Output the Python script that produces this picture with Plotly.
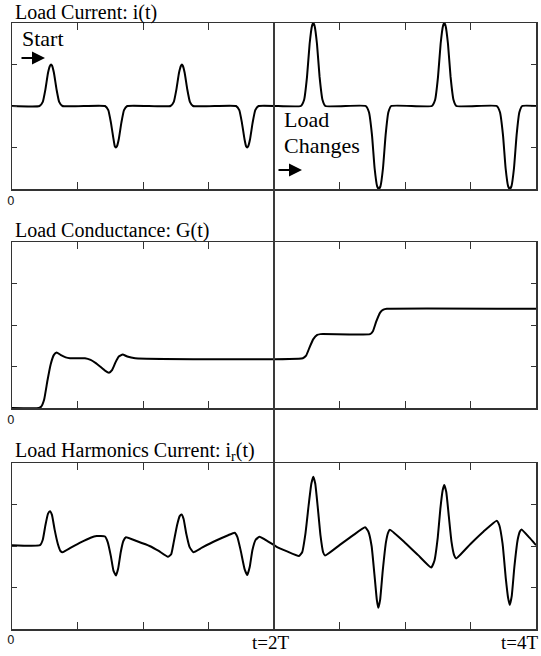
import plotly.graph_objects as go

W, H = 541, 656

# ---------------- data (t in units of T) ----------------
t_current = [0.0, 0.21, 0.235, 0.255, 0.275, 0.29, 0.298, 0.306, 0.32, 0.34, 0.36, 0.385,
             0.71, 0.735, 0.755, 0.775, 0.785, 0.793, 0.801, 0.815, 0.835, 0.855, 0.88,
             1.21, 1.235, 1.255, 1.275, 1.29, 1.297, 1.304, 1.318, 1.338, 1.358, 1.382,
             1.71, 1.735, 1.755, 1.775, 1.787, 1.795, 1.803, 1.817, 1.837, 1.857, 1.882,
             2.205, 2.23, 2.252, 2.272, 2.29, 2.30, 2.31, 2.328, 2.348, 2.37, 2.392,
             2.70, 2.725, 2.748, 2.768, 2.787, 2.80, 2.813, 2.832, 2.852, 2.873, 2.895,
             3.205, 3.23, 3.252, 3.272, 3.29, 3.30, 3.31, 3.328, 3.348, 3.37, 3.392,
             3.70, 3.725, 3.748, 3.768, 3.787, 3.80, 3.813, 3.832, 3.852, 3.873, 3.895, 4.0]
i_current = [0.0, 0.0, 0.1, 0.4, 0.8, 0.97, 1.0, 0.97, 0.8, 0.4, 0.1, 0.0,
             0.0, -0.1, -0.4, -0.8, -0.97, -1.0, -0.97, -0.8, -0.4, -0.1, 0.0,
             0.0, 0.1, 0.4, 0.8, 0.97, 1.0, 0.97, 0.8, 0.4, 0.1, 0.0,
             0.0, -0.1, -0.4, -0.8, -0.97, -1.0, -0.97, -0.8, -0.4, -0.1, 0.0,
             0.0, 0.15, 0.7, 1.5, 1.93, 2.0, 1.93, 1.5, 0.7, 0.15, 0.0,
             0.0, -0.15, -0.7, -1.5, -1.93, -2.0, -1.93, -1.5, -0.7, -0.15, 0.0,
             0.0, 0.15, 0.7, 1.5, 1.93, 2.0, 1.93, 1.5, 0.7, 0.15, 0.0,
             0.0, -0.15, -0.7, -1.5, -1.93, -2.0, -1.93, -1.5, -0.7, -0.15, 0.0, 0.0]

t_conduct = [0.0, 0.205, 0.222, 0.245, 0.27, 0.295, 0.32, 0.341, 0.37, 0.41, 0.443,
             0.557, 0.6, 0.64, 0.672, 0.71, 0.74, 0.765, 0.79, 0.815, 0.845, 0.88, 0.94,
             2.22, 2.245, 2.27, 2.3, 2.33, 2.355, 2.733, 2.755, 2.78, 2.81, 2.835, 2.862, 4.0]
g_conduct = [0.0, 0.0, 0.03, 0.2, 0.65, 1.05, 1.28, 1.34, 1.28, 1.22, 1.2,
             1.2, 1.16, 1.08, 1.0, 0.9, 0.85, 0.92, 1.1, 1.24, 1.29, 1.24, 1.2,
             1.2, 1.26, 1.45, 1.66, 1.76, 1.78, 1.78, 1.85, 2.08, 2.3, 2.37, 2.39, 2.39]

t_harm = [0.0, 0.214, 0.235, 0.255, 0.275, 0.29, 0.305, 0.325, 0.35, 0.37, 0.387,
          0.45, 0.52, 0.6, 0.646, 0.71, 0.73, 0.755, 0.775, 0.794, 0.81, 0.83, 0.85, 0.87,
          0.95, 1.05, 1.12, 1.19, 1.215, 1.235, 1.26, 1.28, 1.295, 1.31, 1.33, 1.355, 1.384,
          1.45, 1.55, 1.65, 1.70, 1.72, 1.745, 1.775, 1.796, 1.815, 1.835, 1.86, 1.888,
          1.95, 2.02, 2.1, 2.19, 2.215, 2.24, 2.265, 2.285, 2.30, 2.315, 2.335, 2.355, 2.375, 2.39,
          2.5, 2.6, 2.695, 2.72, 2.745, 2.77, 2.785, 2.796, 2.81, 2.83, 2.855, 2.872, 2.885,
          3.0, 3.1, 3.20, 3.225, 3.25, 3.27, 3.288, 3.30, 3.315, 3.335, 3.355, 3.375, 3.39,
          3.5, 3.6, 3.70, 3.72, 3.745, 3.77, 3.787, 3.80, 3.815, 3.835, 3.86, 3.877, 3.89,
          3.95, 4.0]
i_harm = [0.02, 0.02, 0.15, 0.5, 0.78, 0.84, 0.75, 0.4, 0.05, -0.12, -0.15,
          -0.04, 0.08, 0.2, 0.24, 0.23, 0.1, -0.25, -0.6, -0.71, -0.55, -0.15, 0.12, 0.21,
          0.12, 0.0, -0.12, -0.26, -0.2, 0.1, 0.5, 0.72, 0.76, 0.65, 0.3, -0.02, -0.15,
          -0.04, 0.12, 0.26, 0.32, 0.22, -0.1, -0.55, -0.70, -0.5, -0.1, 0.15, 0.22,
          0.12, -0.02, -0.13, -0.24, -0.15, 0.3, 1.0, 1.5, 1.67, 1.5, 0.9, 0.25, -0.15, -0.23,
          0.02, 0.25, 0.45, 0.35, 0.0, -0.8, -1.3, -1.49, -1.3, -0.6, 0.1, 0.33, 0.39,
          0.08, -0.22, -0.52, -0.35, 0.2, 0.9, 1.35, 1.47, 1.3, 0.7, 0.1, -0.22, -0.30,
          0.05, 0.35, 0.61, 0.5, 0.05, -0.8, -1.25, -1.42, -1.2, -0.5, 0.15, 0.35, 0.40,
          0.2, 0.02]

x_ticks = [0, 0.5, 1, 1.5, 2, 2.5, 3, 3.5, 4]
titles = ["Load Current: i(t)", "Load Conductance: G(t)", "Load Harmonics Current: i<sub>r</sub>(t)"]
x_labels = ["0", "t=2T", "t=4T"]

# ---------------- figure ----------------
SERIF = "Liberation Serif, Times New Roman, serif"
AX = "#333333"

def py(p):  # pixel row -> paper y
    return 1 - p / H

def px(p):  # pixel col -> paper x
    return p / W

panels = [(23, 189), (242, 408), (463, 629)]
xdom = [px(12), px(536)]

fig = go.Figure()
for k, (tt, yy) in enumerate([(t_current, i_current), (t_conduct, g_conduct), (t_harm, i_harm)]):
    sfx = "" if k == 0 else str(k + 1)
    fig.add_trace(go.Scatter(x=tt, y=yy, mode="lines", xaxis="x" + sfx, yaxis="y" + sfx,
                             line=dict(color="black", width=2, shape="spline", smoothing=0.4),
                             showlegend=False, hoverinfo="skip"))

layout = dict(width=W, height=H, margin=dict(l=0, r=0, t=0, b=0),
              paper_bgcolor="white", plot_bgcolor="white", showlegend=False)
common_x = dict(range=[0, 4], tickmode="array", tickvals=x_ticks, ticks="inside", ticklen=7,
                tickcolor=AX, tickwidth=1, showticklabels=False, showgrid=False, zeroline=False,
                showline=True, linecolor=AX, linewidth=1.5, mirror="allticks", domain=xdom,
                fixedrange=True)
common_y = dict(ticks="inside", ticklen=5, tickcolor=AX, tickwidth=1, showticklabels=False,
                showgrid=False, zeroline=False, showline=True, linecolor=AX, linewidth=1.5,
                mirror="allticks", fixedrange=True, tickmode="array")
yranges = [[-2, 2], [0, 4], [-2, 2]]
yticks = [[-1, 0, 1], [1, 2, 3], [-1, 0, 1]]
for k, (top, bot) in enumerate(panels):
    sfx = "" if k == 0 else str(k + 1)
    layout["xaxis" + sfx] = dict(common_x, anchor="y" + sfx)
    layout["yaxis" + sfx] = dict(common_y, anchor="x" + sfx, range=yranges[k],
                                 tickvals=yticks[k], domain=[py(bot), py(top)])
fig.update_layout(**layout)

# vertical marker at t = 2T spanning all panels
fig.add_shape(type="line", xref="x", yref="paper", x0=2, x1=2, y0=py(629), y1=py(23),
              line=dict(color="#3a3a3a", width=2))

ann = []
# panel titles
for k, (top, bot) in enumerate(panels):
    ann.append(dict(text=titles[k], x=px(13), y=py(top - 11), xref="paper", yref="paper",
                    xanchor="left", yanchor="middle", showarrow=False,
                    font=dict(family=SERIF, size=20, color="black")))
    # small "0" under each panel
    ann.append(dict(text=x_labels[0], x=px(11), y=py(bot + 12 if k < 2 else bot + 11),
                    xref="paper", yref="paper", xanchor="center", yanchor="middle",
                    showarrow=False,
                    font=dict(family="Liberation Sans Narrow, DejaVu Sans, sans-serif",
                              size=12, color="#222")))
ann.append(dict(text=x_labels[1], x=2, xref="x3", y=py(642), yref="paper", xanchor="center",
                yanchor="middle", showarrow=False, xshift=-4,
                font=dict(family=SERIF, size=19, color="black")))
ann.append(dict(text=x_labels[2], x=px(540), xref="paper", y=py(642), yref="paper",
                xanchor="right", yanchor="middle", showarrow=False,
                font=dict(family=SERIF, size=19, color="black")))
# Start
ann.append(dict(text="Start", x=px(20), y=py(38), xref="paper", yref="paper", xanchor="left",
                yanchor="middle", showarrow=False, font=dict(family=SERIF, size=22, color="black")))
ann.append(dict(text="", x=px(45), y=py(58), xref="paper", yref="paper", ax=-25, ay=0,
                showarrow=True, arrowhead=2, arrowsize=1.3, arrowwidth=2, arrowcolor="black"))
# Load Changes
ann.append(dict(text="Load", x=px(282), y=py(119), xref="paper", yref="paper", xanchor="left",
                yanchor="middle", showarrow=False, font=dict(family=SERIF, size=22, color="black")))
ann.append(dict(text="Changes", x=px(282), y=py(146), xref="paper", yref="paper", xanchor="left",
                yanchor="middle", showarrow=False, font=dict(family=SERIF, size=22, color="black")))
ann.append(dict(text="", x=px(302), y=py(170), xref="paper", yref="paper", ax=-25, ay=0,
                showarrow=True, arrowhead=2, arrowsize=1.3, arrowwidth=2, arrowcolor="black"))
fig.update_layout(annotations=ann)

# remove the default page margin so the figure sits at the window's top-left corner
fig.write_html("out.html", config={"displayModeBar": False, "staticPlot": True},
               post_script="document.body.style.margin='0';")
